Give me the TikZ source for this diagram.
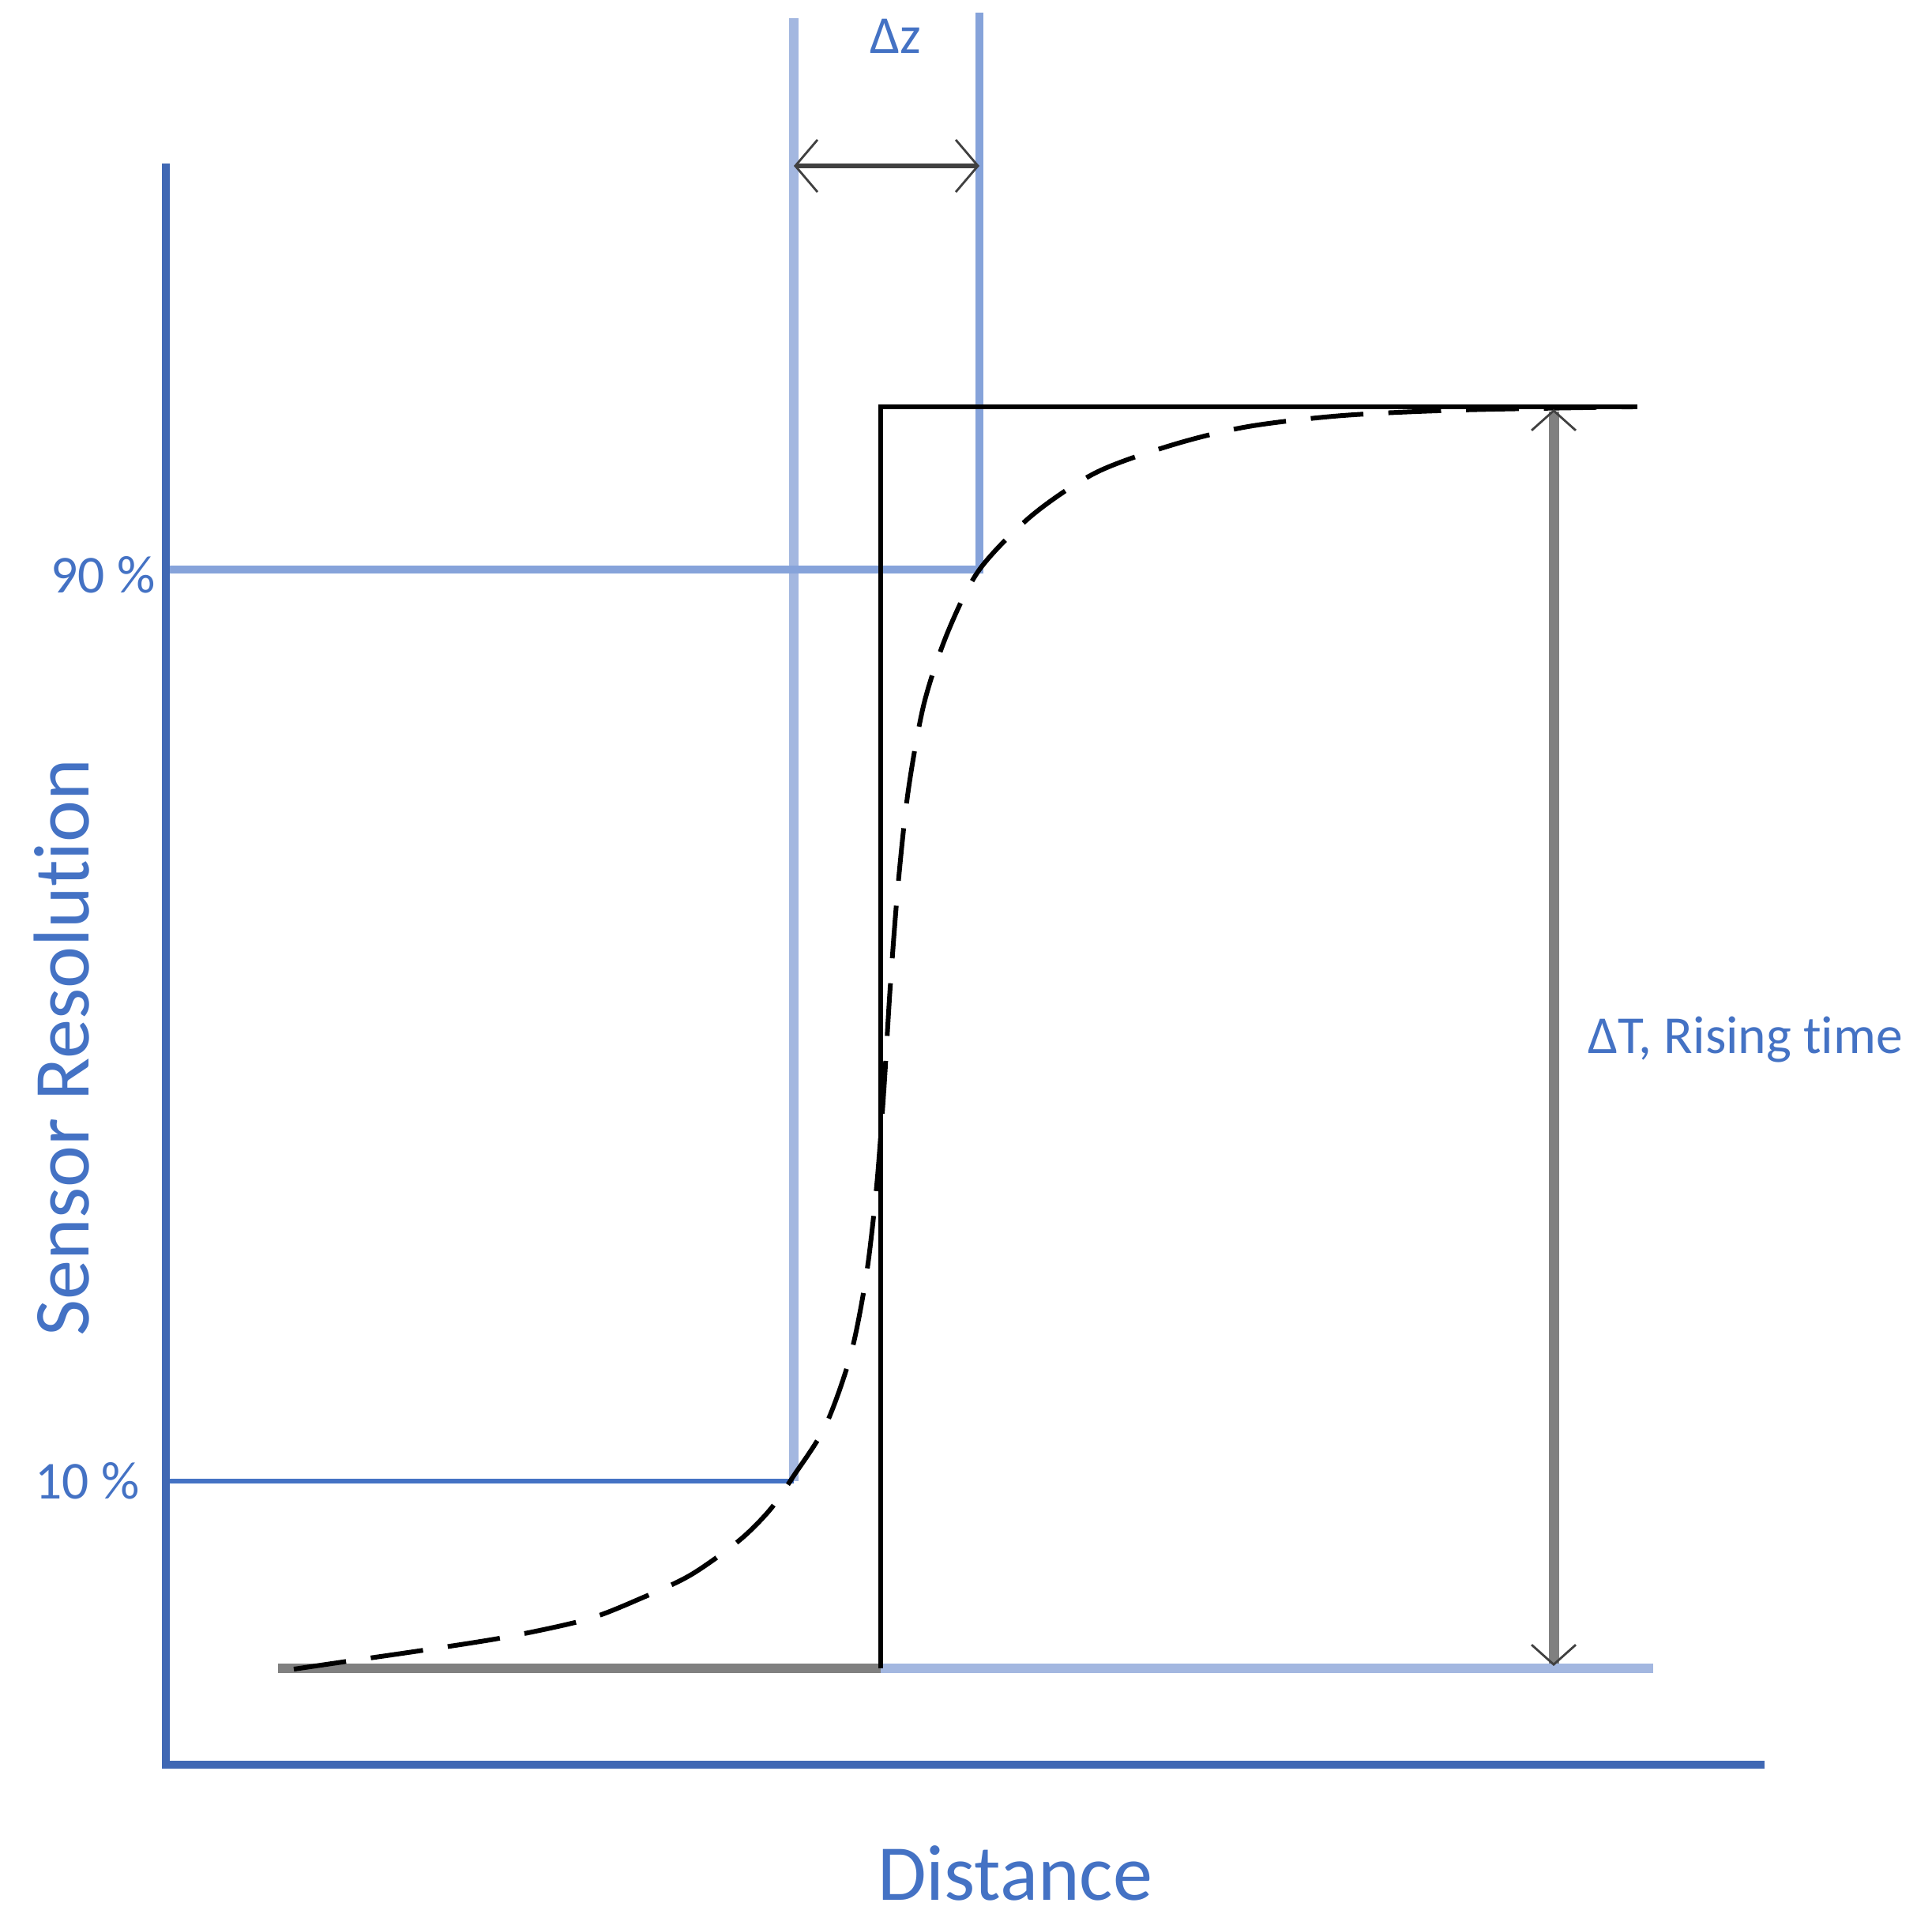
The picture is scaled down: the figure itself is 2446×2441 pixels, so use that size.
\documentclass[tikz,border=0pt]{standalone}
\usepackage{fontspec}
\setmainfont{Carlito}[Ligatures=CommonOff]
\usetikzlibrary{arrows.meta}
\definecolor{axisblue}{HTML}{4068B4}
\definecolor{lblue}{HTML}{A3B7E0}
\definecolor{mblue}{HTML}{86A3DA}
\definecolor{dblue}{HTML}{4472C4}
\definecolor{txtblue}{HTML}{4472C4}
\definecolor{tipgray}{HTML}{404040}
\definecolor{basegray}{HTML}{808080}
\begin{document}
\begin{tikzpicture}[x=0.01cm,y=-0.01cm,
  axis/.style={axisblue, line width=2.85pt, line join=miter},
  guidelight/.style={lblue, line width=3.3pt},
  guidemid/.style={mblue, line width=2.6pt, line join=miter},
  level10/.style={dblue, line width=1.8pt},
  stepline/.style={black, line width=1.7pt, line join=miter},
  basegrayline/.style={basegray, line width=3.4pt},
  baseblueline/.style={lblue, line width=3.4pt},
  sigmoid/.style={black, line width=1.7pt, dash pattern=on 19pt off 9pt},
  dimarrow/.style={tipgray, line width=1.8pt,
    {Straight Barb[length=8pt,width=18.8pt,line width'=0.8pt]}-{Straight Barb[length=8pt,width=18.8pt,line width'=0.8pt]}},
  risearrow/.style={basegray, line width=3.7pt,
    {Straight Barb[length=7.1pt,width=15.9pt,line width'=0.8pt,color=tipgray]}-{Straight Barb[length=7.1pt,width=15.9pt,line width'=0.8pt,color=tipgray]}},
  smalllabel/.style={text=txtblue, font=\fontsize{19.2pt}{23pt}\selectfont, inner sep=0pt},
  biglabel/.style={text=txtblue, font=\fontsize{28.5pt}{34pt}\selectfont, inner sep=0pt}
]
\useasboundingbox (0,0) rectangle (2446,2441);

% axes
\coordinate (Ytop) at (210,207);
\coordinate (O) at (210,2234);
\coordinate (Xend) at (2234,2234);
\draw[axis] (Ytop) -- (O) -- (Xend);

% 10 % guide
\coordinate (g10top) at (1005,23);
\coordinate (g10) at (1005,1875);
\coordinate (l10) at (215,1875);
\draw[guidelight] (g10top) -- (g10);
\draw[level10] (l10) -- (g10);

% 90 % guide
\coordinate (g90top) at (1240,16);
\coordinate (g90) at (1240,721);
\coordinate (l90) at (215,721);
\draw[guidemid] (g90top) -- (g90) -- (l90);

% step function
\coordinate (s0) at (352,2112);
\coordinate (s1) at (1115,2112);
\coordinate (s2) at (1115,515);
\coordinate (s3) at (2073,515);
\coordinate (s4) at (2093,2112);
\draw[basegrayline] (s0) -- (s1);
\draw[baseblueline] (s1) -- (s4);
\draw[stepline] (s1) -- (s2) -- (s3);

% sigmoid response
\draw[sigmoid] plot[smooth, tension=0.5] coordinates {
  (372,2113) (447,2102) (543,2088) (643,2072) (743,2050) (810,2024)
  (874,1994) (936,1950) (975,1911) (1005,1868) (1045,1805) (1077,1715) (1097,1613)
  (1110,1500) (1119,1380) (1127,1250) (1137,1120) (1150,1000) (1170,890)
  (1200,800) (1240,721) (1307,652) (1388,598) (1485,563) (1580,540)
  (1700,526) (1850,519) (2067,515)};

% delta z arrow
\coordinate (dzl) at (1005,210);
\coordinate (dzr) at (1240,210);
\draw[dimarrow] (dzl) -- (dzr);

% rising time arrow
\coordinate (rt) at (1967,518);
\coordinate (rb) at (1967,2109);
\draw[risearrow] (rt) -- (rb);

% labels
\node[smalllabel, anchor=base] (dzlabel) at (1134,67) {Δz};
\node[smalllabel, anchor=base east] (p90) at (197,750) {90 \%};
\node[smalllabel, anchor=base east] (p10) at (177,1897) {10 \%};
\node[smalllabel, anchor=base west] (dT) at (2010,1333) {ΔT, Rising time};
\node[biglabel, anchor=base] (xlab) at (1285,2405) {Distance};
\node[biglabel, anchor=base, rotate=90] (ylab) at (112,1326) {Sensor Resolution};
\end{tikzpicture}
\end{document}
